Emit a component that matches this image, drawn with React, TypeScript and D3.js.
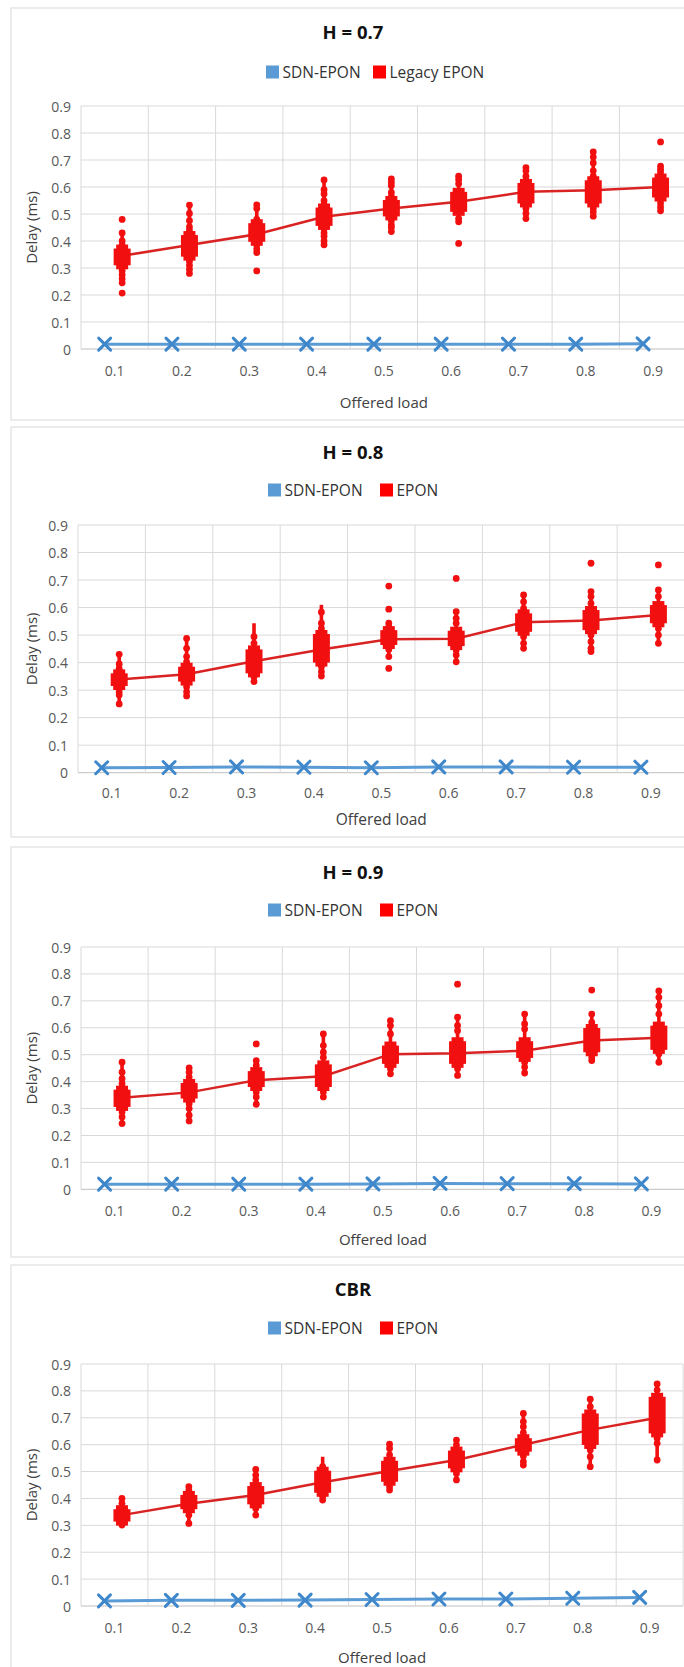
import React from 'react';
import * as d3 from 'd3';

// ---------- data ----------
const loads = ['0.1', '0.2', '0.3', '0.4', '0.5', '0.6', '0.7', '0.8', '0.9'];
const yTicks = [0, 0.1, 0.2, 0.3, 0.4, 0.5, 0.6, 0.7, 0.8, 0.9];
const titles = ['H = 0.7', 'H = 0.8', 'H = 0.9', 'CBR'];
const blueName = 'SDN-EPON';
const redNames = ['Legacy EPON', 'EPON', 'EPON', 'EPON'];
const xTitle = 'Offered load';
const yTitle = 'Delay (ms)';

// SDN-EPON delay per panel
const sdnH07 = [0.018, 0.018, 0.018, 0.018, 0.018, 0.018, 0.018, 0.018, 0.019];
const sdnH08 = [0.018, 0.019, 0.021, 0.02, 0.018, 0.021, 0.021, 0.02, 0.02];
const sdnH09 = [0.019, 0.019, 0.019, 0.019, 0.02, 0.022, 0.021, 0.021, 0.02];
const sdnCBR = [0.019, 0.021, 0.021, 0.022, 0.024, 0.026, 0.026, 0.029, 0.032];

// EPON mean delay per panel
const meanH07 = [0.345, 0.385, 0.425, 0.49, 0.52, 0.545, 0.582, 0.588, 0.6];
const meanH08 = [0.339, 0.358, 0.405, 0.448, 0.485, 0.487, 0.547, 0.553, 0.573];
const meanH09 = [0.34, 0.36, 0.405, 0.42, 0.502, 0.505, 0.515, 0.553, 0.563];
const meanCBR = [0.338, 0.38, 0.413, 0.46, 0.502, 0.543, 0.6, 0.655, 0.7];

// EPON dense cluster range [low, high]
const boxH07 = [[0.31, 0.372], [0.342, 0.422], [0.397, 0.466], [0.456, 0.524], [0.491, 0.552], [0.508, 0.582], [0.539, 0.615], [0.539, 0.625], [0.561, 0.635]];
const boxH08 = [[0.315, 0.361], [0.331, 0.385], [0.361, 0.448], [0.4, 0.504], [0.464, 0.518], [0.46, 0.516], [0.512, 0.579], [0.518, 0.591], [0.543, 0.609]];
const boxH09 = [[0.306, 0.37], [0.337, 0.395], [0.38, 0.439], [0.38, 0.464], [0.466, 0.534], [0.466, 0.55], [0.488, 0.55], [0.509, 0.599], [0.518, 0.608]];
const boxCBR = [[0.314, 0.36], [0.36, 0.413], [0.378, 0.446], [0.421, 0.503], [0.462, 0.54], [0.512, 0.578], [0.574, 0.624], [0.599, 0.716], [0.642, 0.778]];

// EPON sample spread [low, high]
const stemH07 = [[0.245, 0.435], [0.28, 0.533], [0.35, 0.534], [0.385, 0.626], [0.43, 0.63], [0.471, 0.64], [0.483, 0.672], [0.492, 0.73], [0.512, 0.677]];
const stemH08 = [[0.25, 0.43], [0.279, 0.488], [0.331, 0.543], [0.351, 0.61], [0.42, 0.54], [0.4, 0.585], [0.452, 0.646], [0.44, 0.665], [0.47, 0.664]];
const stemH09 = [[0.236, 0.472], [0.254, 0.455], [0.316, 0.48], [0.343, 0.577], [0.429, 0.626], [0.423, 0.639], [0.432, 0.651], [0.478, 0.651], [0.472, 0.737]];
const stemCBR = [[0.301, 0.4], [0.307, 0.444], [0.338, 0.508], [0.394, 0.555], [0.431, 0.602], [0.469, 0.617], [0.524, 0.716], [0.518, 0.769], [0.543, 0.826]];

// EPON individual samples
const dotsH07 = [
  [0.48, 0.43, 0.4, 0.385, 0.29, 0.275, 0.26, 0.245, 0.207],
  [0.533, 0.502, 0.475, 0.452, 0.438, 0.325, 0.31, 0.295, 0.28],
  [0.534, 0.52, 0.48, 0.385, 0.37, 0.357, 0.289],
  [0.626, 0.59, 0.574, 0.549, 0.535, 0.445, 0.43, 0.418, 0.4, 0.386],
  [0.63, 0.618, 0.605, 0.58, 0.565, 0.475, 0.46, 0.45, 0.435],
  [0.64, 0.628, 0.612, 0.483, 0.471, 0.391],
  [0.672, 0.66, 0.64, 0.625, 0.52, 0.502, 0.483],
  [0.73, 0.711, 0.689, 0.66, 0.64, 0.52, 0.508, 0.492],
  [0.767, 0.677, 0.665, 0.655, 0.541, 0.526, 0.512],
];
const dotsH08 = [
  [0.43, 0.395, 0.379, 0.294, 0.282, 0.25],
  [0.488, 0.452, 0.422, 0.403, 0.312, 0.294, 0.279],
  [0.494, 0.47, 0.349, 0.331],
  [0.583, 0.543, 0.524, 0.385, 0.367, 0.351],
  [0.678, 0.594, 0.543, 0.531, 0.448, 0.422, 0.379],
  [0.706, 0.585, 0.561, 0.543, 0.446, 0.428, 0.403],
  [0.646, 0.621, 0.597, 0.494, 0.47, 0.452],
  [0.761, 0.658, 0.64, 0.615, 0.5, 0.476, 0.452, 0.44],
  [0.755, 0.664, 0.64, 0.524, 0.5, 0.47],
];
const dotsH09 = [
  [0.472, 0.435, 0.411, 0.392, 0.287, 0.269, 0.244],
  [0.451, 0.435, 0.417, 0.318, 0.3, 0.275, 0.254],
  [0.54, 0.478, 0.46, 0.361, 0.343, 0.316],
  [0.577, 0.534, 0.509, 0.49, 0.361, 0.343],
  [0.626, 0.608, 0.577, 0.448, 0.429],
  [0.762, 0.639, 0.608, 0.589, 0.448, 0.423],
  [0.651, 0.614, 0.595, 0.472, 0.454, 0.432],
  [0.74, 0.651, 0.62, 0.49, 0.478],
  [0.737, 0.713, 0.682, 0.651, 0.503, 0.472],
];
const dotsCBR = [
  [0.4, 0.382, 0.301],
  [0.444, 0.431, 0.338, 0.307],
  [0.508, 0.487, 0.469, 0.363, 0.338],
  [0.518, 0.407, 0.394],
  [0.602, 0.586, 0.562, 0.444, 0.431],
  [0.617, 0.599, 0.493, 0.469],
  [0.716, 0.686, 0.667, 0.645, 0.558, 0.537, 0.524],
  [0.769, 0.741, 0.58, 0.555, 0.518],
  [0.826, 0.803, 0.624, 0.605, 0.543],
];

const sdnAll = [sdnH07, sdnH08, sdnH09, sdnCBR];
const meanAll = [meanH07, meanH08, meanH09, meanCBR];
const boxAll = [boxH07, boxH08, boxH09, boxCBR];
const stemAll = [stemH07, stemH08, stemH09, stemCBR];
const dotsAll = [dotsH07, dotsH08, dotsH09, dotsCBR];

// ---------- layout ----------
const layouts = [
  { frameTop: 8, frameBottom: 420, titleY: 31, legendY: 72, legendX: 266, legendRedX: 373, plotTop: 106, plotBottom: 349, plotLeft: 81, step: 67.3, tickY: 370, xTitleY: 402, xTitleSize: 15 },
  { frameTop: 427, frameBottom: 837, titleY: 451, legendY: 490, legendX: 268, legendRedX: 380, plotTop: 525, plotBottom: 772.7, plotLeft: 78, step: 67.4, tickY: 792, xTitleY: 819, xTitleSize: 15.5 },
  { frameTop: 847, frameBottom: 1257, titleY: 871, legendY: 910, legendX: 268, legendRedX: 380, plotTop: 947, plotBottom: 1189.3, plotLeft: 81, step: 67.1, tickY: 1210, xTitleY: 1239, xTitleSize: 15 },
  { frameTop: 1265, frameBottom: 1720, titleY: 1288, legendY: 1328, legendX: 268, legendRedX: 380, plotTop: 1364, plotBottom: 1606, plotLeft: 81, step: 66.9, tickY: 1627, xTitleY: 1657, xTitleSize: 15 },
];

const FONT = "'Open Sans', 'Noto Sans', sans-serif";
const BLUE = '#5b9bd5';
const BLUE_MARK = '#3f87cb';
const RED = '#f20f0f';
const RED_LINE = '#d92323';
const GRID = '#d9d9d9';

function Panel({ i }: { i: number }) {
  const L = layouts[i];
  const x = d3.scaleBand<string>().domain(loads).range([L.plotLeft, L.plotLeft + L.step * loads.length]).padding(0);
  const y = d3.scaleLinear().domain([0, 0.9]).range([L.plotBottom, L.plotTop]);
  const cx = (c: string) => (x(c) as number) + x.bandwidth() / 2;
  const bx = (j: number) => cx(loads[j]) - 10;
  const rx = (j: number) => cx(loads[j]) + 7.5;

  const blueLine = d3.line<number>().x((_, j) => bx(j)).y((d) => y(d));
  const redLine = d3.line<number>().x((_, j) => rx(j)).y((d) => y(d));

  const sdn = sdnAll[i];
  const mean = meanAll[i];
  const box = boxAll[i];
  const stem = stemAll[i];
  const dots = dotsAll[i];
  const plotRight = L.plotLeft + L.step * loads.length;
  const midY = (L.plotTop + L.plotBottom) / 2;

  return (
    <g>
      <rect x={11} y={L.frameTop} width={700} height={L.frameBottom - L.frameTop} fill="#fff" stroke={GRID} strokeWidth={1} />
      <text x={353} y={L.titleY} textAnchor="middle" dominantBaseline="central" fontFamily={FONT} fontWeight={700} fontSize={18.5} fill="#111">{titles[i]}</text>
      {/* legend */}
      <rect x={L.legendX} y={L.legendY - 6.5} width={13} height={13} fill={BLUE} />
      <text x={L.legendX + 16.5} y={L.legendY} dominantBaseline="central" fontFamily={FONT} fontSize={15.5} fill="#333">{blueName}</text>
      <rect x={L.legendRedX} y={L.legendY - 6.5} width={13} height={13} fill="#ff0000" />
      <text x={L.legendRedX + 16.5} y={L.legendY} dominantBaseline="central" fontFamily={FONT} fontSize={15.5} fill="#333">{redNames[i]}</text>
      {/* grid */}
      {yTicks.map((t) => (
        <line key={'h' + t} x1={L.plotLeft} x2={plotRight} y1={y(t)} y2={y(t)} stroke={t === 0 ? '#bfbfbf' : GRID} strokeWidth={1} />
      ))}
      {loads.map((c) => (
        <line key={'v' + c} x1={x(c) as number} x2={x(c) as number} y1={L.plotTop} y2={L.plotBottom} stroke={GRID} strokeWidth={1} />
      ))}
      <line x1={plotRight} x2={plotRight} y1={L.plotTop} y2={L.plotBottom} stroke={GRID} strokeWidth={1} />
      {/* y tick labels */}
      {yTicks.map((t) => (
        <text key={'yl' + t} x={L.plotLeft - 10} y={y(t)} textAnchor="end" dominantBaseline="central" fontFamily={FONT} fontSize={14} fill="#595959">{d3.format('~g')(t)}</text>
      ))}
      {/* x tick labels */}
      {loads.map((c) => (
        <text key={'xl' + c} x={cx(c)} y={L.tickY} textAnchor="middle" dominantBaseline="central" fontFamily={FONT} fontSize={14} fill="#595959">{c}</text>
      ))}
      <text x={cx(loads[4])} y={L.xTitleY} textAnchor="middle" dominantBaseline="central" fontFamily={FONT} fontSize={L.xTitleSize} fill="#404040">{xTitle}</text>
      <text transform={`translate(31,${midY}) rotate(-90)`} textAnchor="middle" dominantBaseline="central" fontFamily={FONT} fontSize={15} fill="#404040">{yTitle}</text>
      {/* EPON */}
      <path d={redLine(mean) as string} fill="none" stroke={RED_LINE} strokeWidth={2.5} />
      {loads.map((c, j) => (
        <g key={'r' + c}>
          <rect x={rx(j) - 1.8} width={3.6} y={y(stem[j][1])} height={y(stem[j][0]) - y(stem[j][1])} fill={RED} />
          {dots[j].map((v, k) => (
            <circle key={k} cx={rx(j)} cy={y(v)} r={3.4} fill={RED} />
          ))}
          <rect x={rx(j) - 6} width={12} y={y(box[j][1]) - 4} height={y(box[j][0]) - y(box[j][1]) + 8} fill={RED} />
          <rect x={rx(j) - 8.5} width={17} y={y(box[j][1])} height={y(box[j][0]) - y(box[j][1])} fill={RED} />
        </g>
      ))}
      {/* SDN-EPON */}
      <path d={blueLine(sdn) as string} fill="none" stroke={BLUE} strokeWidth={3} />
      {sdn.map((v, j) => (
        <g key={'b' + j} stroke={BLUE_MARK} strokeWidth={3} strokeLinecap="round">
          <line x1={bx(j) - 6} x2={bx(j) + 6} y1={y(v) - 6} y2={y(v) + 6} />
          <line x1={bx(j) - 6} x2={bx(j) + 6} y1={y(v) + 6} y2={y(v) - 6} />
        </g>
      ))}
    </g>
  );
}

export default function App() {
  return (
    <div style={{ position: 'absolute', left: 0, top: 0, width: 684, height: 1667, overflow: 'hidden', background: '#fff' }}>
      <svg width={684} height={1667} style={{ display: 'block' }}>
        <rect x={0} y={0} width={684} height={1667} fill="#fff" />
        {titles.map((_, i) => (
          <Panel key={i} i={i} />
        ))}
      </svg>
    </div>
  );
}
